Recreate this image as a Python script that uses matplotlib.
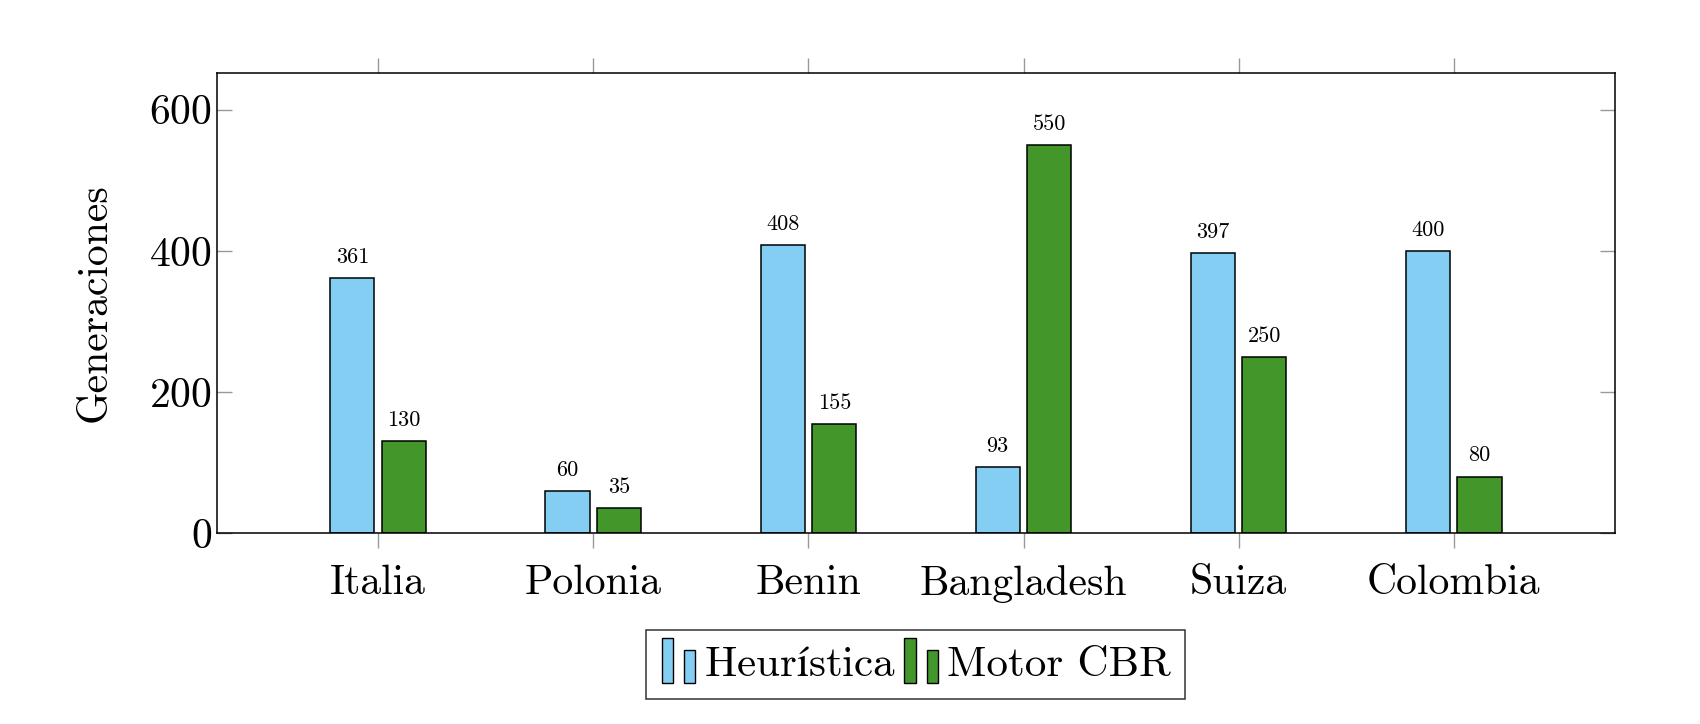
import matplotlib
matplotlib.use("Agg")
import matplotlib.pyplot as plt
import numpy as np
from matplotlib.legend_handler import HandlerBase
from matplotlib.patches import Rectangle

plt.rcParams["font.family"] = ["cmr10", "DejaVu Serif"]
plt.rcParams["mathtext.fontset"] = "cm"
plt.rcParams["axes.formatter.use_mathtext"] = True

countries = ["Italia", "Polonia", "Benin", "Bangladesh", "Suiza", "Colombia"]
heuristica = [361, 60, 408, 93, 397, 400]
motor_cbr = [130, 35, 155, 550, 250, 80]
series_names = [r"Heur$\mathrm{í}$stica", "Motor CBR"]

blue = "#84CEF3"
green = "#43962A"


class TwoBarHandler(HandlerBase):
    # pgfplots-style ybar legend image: two small bars
    def create_artists(self, legend, orig_handle, xdescent, ydescent,
                       width, height, fontsize, trans):
        fc = orig_handle.get_facecolor()
        bw = width * 0.34
        y0 = -ydescent - height * 0.25
        r1 = Rectangle((-xdescent, y0), bw, height * 1.5,
                       facecolor=fc, edgecolor="black", lw=1, transform=trans)
        r2 = Rectangle((-xdescent + width * 0.66, y0), bw, height * 1.1,
                       facecolor=fc, edgecolor="black", lw=1, transform=trans)
        return [r1, r2]


fig = plt.figure(figsize=(17, 7.24), dpi=100)
ax = fig.add_axes([0.1276, 0.2638, 0.8224, 0.6353])

x = np.arange(len(countries))
w = 0.205
b1 = ax.bar(x - 0.12, heuristica, w, color=blue, edgecolor="black", lw=1.1, zorder=2)
b2 = ax.bar(x + 0.12, motor_cbr, w, color=green, edgecolor="black", lw=1.1, zorder=2)

for bars, vals in ((b1, heuristica), (b2, motor_cbr)):
    for rect, v in zip(bars, vals):
        ax.annotate(str(v), (rect.get_x() + rect.get_width() / 2, v),
                    xytext=(0, 8), textcoords="offset points",
                    ha="center", va="bottom", fontsize=16)

ax.set_xlim(-0.75, 5.75)
ax.set_ylim(0, 652)
ax.set_xticks(x)
ax.set_xticklabels(countries, fontsize=30)
ax.set_yticks([0, 200, 400, 600])
ax.tick_params(axis="y", labelsize=30, direction="in", left=True, right=True,
               length=11, color="#999999", width=1)
ax.tick_params(axis="x", direction="out", top=True, bottom=True,
               length=11, color="#999999", width=1, pad=12)
ax.set_ylabel("Generaciones", fontsize=30, labelpad=26)
for s in ax.spines.values():
    s.set_linewidth(1.1)

leg = ax.legend([b1[0], b2[0]], series_names, handler_map={
    b1[0]: TwoBarHandler(), b2[0]: TwoBarHandler()},
    loc="upper center", bbox_to_anchor=(0.5, -0.165), ncol=2, fontsize=31,
    frameon=True, fancybox=False, edgecolor="black", handlelength=0.78,
    handletextpad=0.2, columnspacing=0.2, borderpad=0.35)
leg.get_frame().set_linewidth(1.1)

fig.savefig("out.png", dpi=100, facecolor="white")
